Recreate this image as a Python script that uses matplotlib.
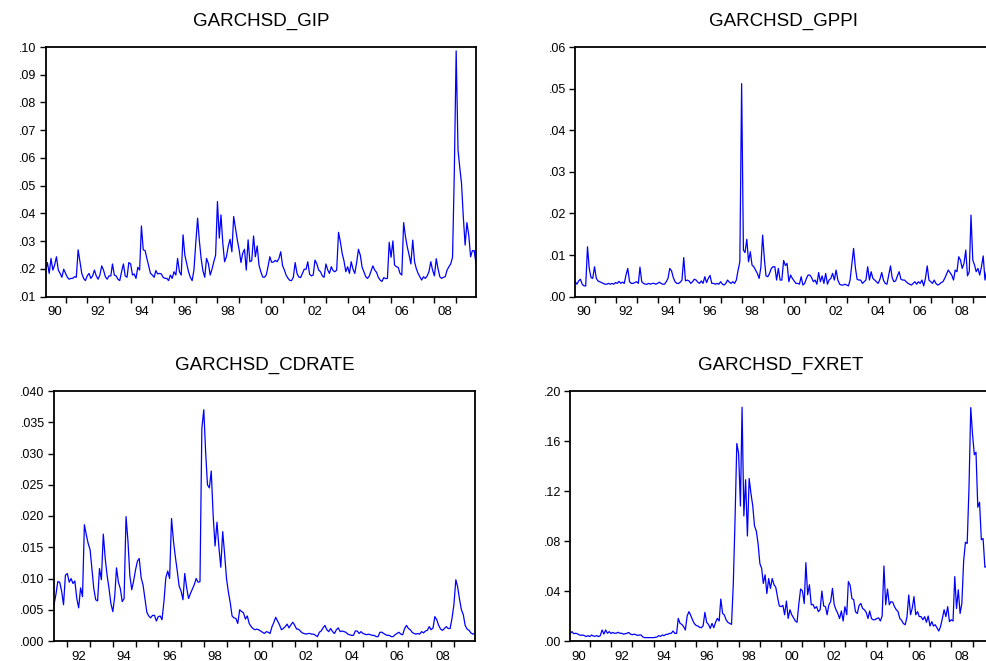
"""Four-panel GARCH conditional standard deviation plot (monthly series)."""

import datetime as dt

import matplotlib
matplotlib.use('Agg')
import matplotlib.pyplot as plt
import matplotlib.dates as mdates
from matplotlib.ticker import FixedLocator, FuncFormatter, NullFormatter
import pandas as pd

plt.rcParams['font.family'] = ['Liberation Sans', 'DejaVu Sans']

# monthly series, first observation given by *_START
GIP_START = '1990-02-01'
GIP = [
    .0196, .0223, .0184, .0238, .0196, .0214, .0244, .0196, .0184, .0170, .0199, .0184,
    .0170, .0163, .0166, .0166, .0172, .0170, .0269, .0226, .0184, .0166, .0158, .0175,
    .0184, .0166, .0175, .0196, .0175, .0163, .0178, .0211, .0196, .0172, .0163, .0175,
    .0175, .0218, .0178, .0175, .0163, .0158, .0190, .0218, .0175, .0170, .0223, .0218,
    .0178, .0182, .0166, .0206, .0196, .0355, .0269, .0266, .0238, .0211, .0184, .0178,
    .0170, .0194, .0182, .0184, .0182, .0170, .0166, .0166, .0158, .0178, .0166, .0190,
    .0178, .0238, .0190, .0178, .0323, .0250, .0220, .0190, .0170, .0158, .0196, .0293,
    .0383, .0305, .0238, .0194, .0170, .0238, .0220, .0178, .0199, .0226, .0250, .0443,
    .0311, .0395, .0293, .0226, .0244, .0281, .0307, .0262, .0389, .0347, .0305, .0269,
    .0223, .0256, .0271, .0196, .0305, .0226, .0230, .0319, .0244, .0283, .0214, .0190,
    .0171, .0170, .0178, .0208, .0244, .0224, .0225, .0231, .0226, .0238, .0262, .0212,
    .0196, .0178, .0167, .0159, .0158, .0170, .0223, .0184, .0171, .0169, .0184, .0199,
    .0199, .0226, .0181, .0175, .0178, .0232, .0218, .0196, .0190, .0175, .0170, .0218,
    .0196, .0184, .0208, .0194, .0190, .0196, .0332, .0298, .0256, .0229, .0190, .0208,
    .0184, .0226, .0199, .0184, .0223, .0271, .0250, .0206, .0190, .0172, .0166, .0175,
    .0194, .0211, .0196, .0188, .0170, .0160, .0155, .0169, .0165, .0166, .0296, .0242,
    .0301, .0214, .0208, .0206, .0184, .0178, .0367, .0316, .0280, .0250, .0218, .0304,
    .0226, .0202, .0184, .0172, .0160, .0172, .0166, .0175, .0190, .0226, .0196, .0175,
    .0237, .0202, .0172, .0166, .0170, .0172, .0196, .0208, .0218, .0242, .0550, .0986,
    .0630, .0569, .0509, .0389, .0286, .0367, .0322, .0244, .0266, .0266, .0218,
]

GPPI_START = '1990-02-01'
GPPI = [
    .0036, .0030, .0038, .0042, .0030, .0026, .0026, .0120, .0068, .0046, .0044, .0072,
    .0044, .0038, .0036, .0034, .0032, .0030, .0030, .0032, .0030, .0032, .0030, .0034,
    .0032, .0037, .0032, .0035, .0032, .0052, .0068, .0036, .0032, .0032, .0034, .0036,
    .0032, .0071, .0036, .0032, .0030, .0030, .0032, .0030, .0032, .0032, .0030, .0032,
    .0035, .0032, .0030, .0030, .0036, .0044, .0068, .0062, .0046, .0036, .0032, .0032,
    .0035, .0040, .0094, .0038, .0040, .0038, .0032, .0036, .0042, .0040, .0035, .0032,
    .0038, .0032, .0048, .0034, .0044, .0051, .0032, .0032, .0030, .0032, .0030, .0036,
    .0030, .0028, .0032, .0040, .0035, .0032, .0036, .0032, .0040, .0064, .0084, .0512,
    .0112, .0106, .0138, .0084, .0108, .0076, .0072, .0064, .0056, .0044, .0070, .0148,
    .0090, .0050, .0048, .0056, .0068, .0072,
    .0072, .0040, .0068, .0040, .0040, .0087, .0075, .0080, .0036, .0052,
    .0044, .0038, .0032, .0032, .0030, .0048, .0028, .0032, .0044, .0052,
    .0052, .0046, .0036, .0040, .0030, .0058, .0036, .0050, .0032, .0056,
    .0030, .0040, .0044, .0056, .0040, .0064, .0040, .0030, .0028, .0028,
    .0030, .0028, .0026, .0040, .0078, .0116, .0070, .0042, .0040, .0040,
    .0032, .0036, .0040, .0072, .0040, .0060, .0044, .0040, .0036, .0032,
    .0042, .0058, .0040, .0032, .0030, .0052, .0074, .0046, .0036, .0038,
    .0050, .0060, .0042, .0040, .0040, .0036, .0032, .0030, .0028, .0032,
    .0036, .0030, .0036, .0032, .0040, .0026, .0044, .0074, .0040, .0036,
    .0032, .0040, .0032, .0028, .0030, .0034, .0036, .0044, .0054, .0064,
    .0058, .0052, .0040, .0064, .0060, .0096, .0088, .0068, .0080, .0112,
    .0050, .0060, .0196, .0088, .0076, .0060, .0068, .0052, .0072, .0098,
    .0040, .0064, .0090, .0070, .0075,
]

CDRATE_START = '1991-06-01'
CDRATE = [
    .0058, .0074, .0095, .0094, .0080, .0058, .0105, .0108, .0094, .0100,
    .0092, .0096, .0068, .0053, .0085, .0071, .0186, .0170, .0156, .0146,
    .0114, .0084, .0066, .0064, .0116, .0098, .0171, .0132, .0105, .0084,
    .0060, .0047, .0072, .0117, .0094, .0084, .0063, .0068, .0199, .0160,
    .0105, .0082, .0096, .0114, .0128, .0132, .0101, .0090, .0068, .0046,
    .0040, .0037, .0041, .0041, .0032, .0039, .0040, .0034, .0063, .0101,
    .0112, .0100, .0196, .0160, .0135, .0112, .0088, .0080, .0066, .0108,
    .0085, .0068, .0076, .0083, .0090, .0100, .0094, .0095, .0340, .0370,
    .0300, .0250, .0245, .0272, .0200, .0152, .0190, .0150, .0118, .0175,
    .0140, .0100, .0078, .0062, .0040, .0037, .0036, .0028, .0050, .0047,
    .0045, .0035, .0040, .0028, .0023, .0020, .0018, .0019, .0018,
    .0016, .0014, .0012, .0015, .0014, .0012, .0023, .0030, .0038, .0032,
    .0026, .0018, .0020, .0023, .0027, .0021, .0026, .0030, .0025, .0019,
    .0019, .0016, .0013, .0012, .0011, .0012, .0012, .0011, .0011, .0009,
    .0007, .0014, .0016, .0021, .0025, .0018, .0015, .0020, .0015, .0012,
    .0018, .0021, .0015, .0016, .0015, .0014, .0011, .0010, .0009, .0009,
    .0016, .0016, .0012, .0015, .0012, .0011, .0010, .0011, .0010, .0009,
    .0009, .0007, .0007, .0014, .0014, .0012, .0010, .0009, .0009, .0007,
    .0007, .0010, .0012, .0014, .0011, .0010, .0020, .0025, .0020, .0018,
    .0014, .0012, .0011, .0012, .0011, .0015, .0013, .0016, .0017, .0023,
    .0018, .0021, .0039, .0034, .0025, .0019, .0017, .0020, .0023, .0020,
    .0020, .0036, .0058, .0098, .0087, .0067, .0050, .0042, .0025, .0019,
    .0017, .0013, .0011, .0012,
]

FXRET_START = '1990-02-01'
FXRET = [
    .0061, .0075, .0058, .0062, .0058, .0050, .0045, .0048, .0043, .0035,
    .0043, .0035, .0048, .0040, .0038, .0043, .0035, .0043,
    .0088, .0055, .0088, .0062, .0075, .0060, .0068, .0062, .0062, .0070,
    .0062, .0062, .0055, .0058, .0062, .0068, .0055, .0050, .0055, .0050,
    .0045, .0048, .0048,
    .0032, .0027, .0027, .0027, .0027, .0027, .0027, .0030, .0032, .0043,
    .0037, .0048, .0043, .0053, .0053, .0061, .0061, .0080, .0061, .0061,
    .0181, .0141, .0133, .0115, .0088, .0200, .0235, .0205, .0170, .0140,
    .0125, .0120, .0110, .0106, .0122, .0229, .0149, .0133, .0101, .0141,
    .0106, .0149, .0181, .0160, .0336, .0221, .0208, .0168, .0149, .0141,
    .0133,
    .0450, .0980, .1580, .1500, .1080, .1870, .1000, .1290, .0840, .1300,
    .1180, .1080, .0920, .0880, .0780, .0620, .0580, .0460, .0530, .0380,
    .0500, .0420, .0500, .0450, .0430, .0350, .0280,
    .0275, .0285, .0210, .0320, .0181, .0250, .0210, .0186, .0160, .0150,
    .0300, .0416, .0400, .0300, .0627, .0370, .0450, .0290, .0293, .0261,
    .0275, .0235, .0250, .0400, .0280, .0275, .0210, .0290, .0315, .0421,
    .0290, .0250, .0220, .0180, .0240, .0160, .0275, .0210, .0475, .0445,
    .0340, .0330, .0235, .0220, .0285, .0300, .0260, .0250, .0230, .0180,
    .0240, .0180, .0170, .0170, .0180, .0185, .0160, .0200, .0600, .0290,
    .0416, .0290, .0315, .0310, .0275, .0250, .0235, .0180, .0165, .0140,
    .0130, .0190, .0368, .0210, .0260, .0355, .0210, .0235, .0195, .0195,
    .0170, .0195, .0150, .0200, .0120, .0155, .0120, .0130, .0105, .0080,
    .0115, .0180, .0250, .0195, .0275, .0155, .0170, .0160, .0515, .0260,
    .0410, .0220, .0300, .0640, .0790, .0780, .1230, .1867, .1650, .1490,
    .1510, .1070, .1110, .0810, .0820, .0590, .0600, .0550, .0580, .0520,
]

GIP_TICKS = [.01, .02, .03, .04, .05, .06, .07, .08, .09, .10]
GPPI_TICKS = [.00, .01, .02, .03, .04, .05, .06]
CDRATE_TICKS = [.000, .005, .010, .015, .020, .025, .030, .035, .040]
FXRET_TICKS = [.00, .04, .08, .12, .16, .20]

W, H = 986, 661
LINE_BLUE = '#0000ff'


def px_rect(left, top, right, bottom):
    """axes rectangle from pixel edges (origin top-left)"""
    return [left / W, 1 - bottom / H, (right - left) / W, (bottom - top) / H]


def draw_panel(fig, rect, title, start, values, yticks, ydigits):
    ax = fig.add_axes(rect)
    dates = pd.date_range(start, periods=len(values), freq='MS')
    ax.plot(dates, values, color=LINE_BLUE, lw=0.9)

    ax.set_xlim(dates[0], dates[-1])
    ax.set_ylim(yticks[0], yticks[-1])
    ax.set_yticks(yticks)
    ax.yaxis.set_major_formatter(
        FuncFormatter(lambda v, _: f'{v:.{ydigits}f}'.lstrip('0')))

    # ticks at each new year, labels every other year centred in the year
    ax.xaxis.set_major_locator(mdates.YearLocator())
    ax.xaxis.set_major_formatter(NullFormatter())
    mids = [mdates.date2num(dt.datetime(y, 7, 1))
            for y in range(dates[0].year, dates[-1].year + 1) if y % 2 == 0]
    ax.xaxis.set_minor_locator(FixedLocator(mids))
    ax.xaxis.set_minor_formatter(
        FuncFormatter(lambda v, _: mdates.num2date(v).strftime('%y')))

    ax.tick_params(axis='both', which='major', direction='out', length=4.3,
                   width=1.0, labelsize=9, pad=2.5)
    ax.tick_params(axis='x', which='minor', length=0, labelsize=9.5, pad=7)
    ax.tick_params(top=False, right=False)
    for spine in ax.spines.values():
        spine.set_linewidth(1.3)
        spine.set_color('black')

    ax.set_title(title, fontsize=13.5, pad=15)
    return ax


def main():
    fig = plt.figure(figsize=(W / 100, H / 100), dpi=100)
    fig.patch.set_facecolor('white')

    draw_panel(fig, px_rect(45.7, 47, 476, 296.7), 'GARCHSD_GIP',
               GIP_START, GIP, GIP_TICKS, 2)
    draw_panel(fig, px_rect(575.3, 47, 992, 296.7), 'GARCHSD_GPPI',
               GPPI_START, GPPI, GPPI_TICKS, 2)
    draw_panel(fig, px_rect(54, 391, 474.7, 641), 'GARCHSD_CDRATE',
               CDRATE_START, CDRATE, CDRATE_TICKS, 3)
    draw_panel(fig, px_rect(570.3, 391, 992, 641), 'GARCHSD_FXRET',
               FXRET_START, FXRET, FXRET_TICKS, 2)

    fig.savefig('out.png', dpi=100)


if __name__ == '__main__':
    main()
